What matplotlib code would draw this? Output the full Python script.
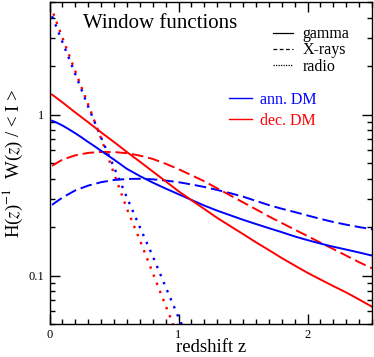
import matplotlib
matplotlib.use("Agg")
import matplotlib.pyplot as plt
from matplotlib.lines import Line2D
from matplotlib.ticker import LogLocator, NullFormatter, FixedLocator, FixedFormatter, MultipleLocator
# ----------------------------------------------------------------------------------------------------------------------

# Curves, redshift z vs H(z)^-1 W(z) / <I>
z_ann_gamma = [0.02, 0.05, 0.1, 0.15, 0.2, 0.25, 0.3, 0.35, 0.4, 0.5, 0.6, 0.7, 0.8, 0.9, 1.0,
               1.1, 1.2, 1.3, 1.4, 1.5, 1.6, 1.7, 1.8, 1.9, 2.0, 2.1, 2.2, 2.3, 2.4, 2.5]
w_ann_gamma = [0.915, 0.895, 0.855, 0.81, 0.765, 0.72, 0.675, 0.635, 0.595, 0.525, 0.46, 0.415, 0.378, 0.347, 0.32,
               0.295, 0.272, 0.253, 0.237, 0.222, 0.209, 0.197, 0.186, 0.175, 0.166, 0.158, 0.151, 0.145, 0.139, 0.133]

z_dec_gamma = [0.02, 0.1, 0.2, 0.3, 0.4, 0.5, 0.6, 0.7, 0.8, 0.9, 1.0, 1.1, 1.2, 1.3,
               1.4, 1.5, 1.6, 1.7, 1.8, 1.9, 2.0, 2.1, 2.2, 2.3, 2.4, 2.5]
w_dec_gamma = [1.33, 1.19, 1.03, 0.895, 0.775, 0.675, 0.585, 0.51, 0.443, 0.385, 0.334, 0.294, 0.259, 0.228,
               0.203, 0.181, 0.161, 0.144, 0.1285, 0.1155, 0.104, 0.0945, 0.086, 0.0785, 0.071, 0.064]

z_ann_xray = [0.02, 0.1, 0.2, 0.3, 0.4, 0.5, 0.6, 0.7, 0.8, 0.9, 1.0, 1.1, 1.2, 1.3,
              1.4, 1.5, 1.6, 1.7, 1.8, 1.9, 2.0, 2.1, 2.2, 2.3, 2.4, 2.5]
w_ann_xray = [0.275, 0.305, 0.338, 0.362, 0.38, 0.392, 0.398, 0.399, 0.396, 0.389, 0.38, 0.368, 0.355, 0.34,
              0.325, 0.309, 0.291, 0.274, 0.26, 0.248, 0.236, 0.225, 0.215, 0.207, 0.2, 0.194]

z_dec_xray = [0.02, 0.1, 0.2, 0.3, 0.4, 0.5, 0.6, 0.7, 0.8, 0.9, 1.0, 1.1, 1.2, 1.3,
              1.4, 1.5, 1.6, 1.7, 1.8, 1.9, 2.0, 2.1, 2.2, 2.3, 2.4, 2.5]
w_dec_xray = [0.48, 0.525, 0.558, 0.578, 0.586, 0.585, 0.575, 0.556, 0.53, 0.495, 0.458, 0.42, 0.385, 0.348,
              0.315, 0.285, 0.258, 0.233, 0.212, 0.193, 0.176, 0.16, 0.146, 0.133, 0.121, 0.111]

z_ann_radio = [0.02, 0.1, 0.2, 0.3, 0.4, 0.5, 0.6, 0.7, 0.8, 0.9, 1.0, 1.05]
w_ann_radio = [4.08, 2.82, 1.78, 1.12, 0.72, 0.47, 0.305, 0.20, 0.132, 0.085, 0.055, 0.045]

z_dec_radio = [0.03, 0.1, 0.2, 0.3, 0.4, 0.5, 0.6, 0.7, 0.8, 0.9, 1.0]
w_dec_radio = [4.24, 3.0, 1.86, 1.15, 0.71, 0.43, 0.26, 0.166, 0.104, 0.065, 0.041]

x_tick_vals = [0, 1, 2]
x_tick_labels = ["0", "1", "2"]
y_tick_vals = [0.1, 1]
y_tick_labels = ["0.1", "1"]

style_labels = ["gamma", "X-rays", "radio"]
dm_labels = ["ann. DM", "dec. DM"]
# ----------------------------------------------------------------------------------------------------------------------

BLUE = "#0000ff"
RED = "#ff0000"
DASH = (0, (6, 2.5))
DOT = (0, (1, 2.7))


def plot_data():

    plt.rcParams["font.family"] = ["Liberation Serif", "DejaVu Serif"]
    plt.rcParams["mathtext.fontset"] = "stix"

    fig = plt.figure(figsize=(3.74, 3.57), dpi=100)
    ax = fig.add_axes([0.1324, 0.0924, 0.8623, 0.902])

    # [1.] Curves
    ax.plot(z_dec_radio, w_dec_radio, color=RED, lw=1.7, ls=DOT)
    ax.plot(z_ann_radio, w_ann_radio, color=BLUE, lw=1.7, ls=DOT)
    ax.plot(z_ann_xray, w_ann_xray, color=BLUE, lw=1.4, ls=DASH)
    ax.plot(z_dec_xray, w_dec_xray, color=RED, lw=1.4, ls=DASH)
    ax.plot(z_ann_gamma, w_ann_gamma, color=BLUE, lw=1.4)
    ax.plot(z_dec_gamma, w_dec_gamma, color=RED, lw=1.4)

    # [2.] Axes, ticks
    ax.set_yscale("log")
    ax.set_xlim(0, 2.5)
    ax.set_ylim(0.05, 5)

    ax.xaxis.set_major_locator(FixedLocator(x_tick_vals))
    ax.xaxis.set_major_formatter(FixedFormatter(x_tick_labels))
    ax.xaxis.set_minor_locator(MultipleLocator(0.1))
    ax.yaxis.set_major_locator(FixedLocator(y_tick_vals))
    ax.yaxis.set_major_formatter(FixedFormatter(y_tick_labels))
    ax.yaxis.set_minor_locator(LogLocator(base=10, subs=range(2, 10)))
    ax.yaxis.set_minor_formatter(NullFormatter())

    ax.tick_params(which="both", direction="in", top=True, right=True, width=1, labelsize=9)
    ax.tick_params(which="major", length=7, pad=3.5)
    ax.tick_params(which="minor", length=3.5)
    for s in ax.spines.values():
        s.set_linewidth(1)

    ax.set_xlabel("redshift z", fontsize=13.5, labelpad=-1)
    ax.set_ylabel(r"H($z$)$^{-1}$  W($z$) / < I >", fontsize=13.5, labelpad=3)

    # [3.] Title and legends
    ax.text(0.104, 0.919, "Window functions", transform=ax.transAxes, fontsize=15, va="baseline")

    style_handles = [Line2D([], [], color="black", lw=0.9, ls="-"),
                     Line2D([], [], color="black", lw=0.9, ls=(0, (3, 2))),
                     Line2D([], [], color="black", lw=0.9, ls=(0, (1, 1)))]
    leg1 = ax.legend(style_handles, style_labels, loc="upper left", bbox_to_anchor=(0.693, 0.925),
                     frameon=False, borderpad=0, borderaxespad=0, handlelength=1.25, handletextpad=0.6,
                     labelspacing=0.02, fontsize=11.5)
    ax.add_artist(leg1)

    dm_handles = [Line2D([], [], color=BLUE, lw=1.0), Line2D([], [], color=RED, lw=1.0)]
    leg2 = ax.legend(dm_handles, dm_labels, loc="upper left", bbox_to_anchor=(0.557, 0.722),
                     frameon=False, borderpad=0, borderaxespad=0, handlelength=1.4, handletextpad=0.55,
                     labelspacing=0.32, fontsize=11.5)
    for t, c in zip(leg2.get_texts(), [BLUE, RED]):
        t.set_color(c)

    fig.savefig("out.png", dpi=100)


# ----------------------------------------------------------------------------------------------------------------------
if __name__ == "__main__":

    plot_data()
